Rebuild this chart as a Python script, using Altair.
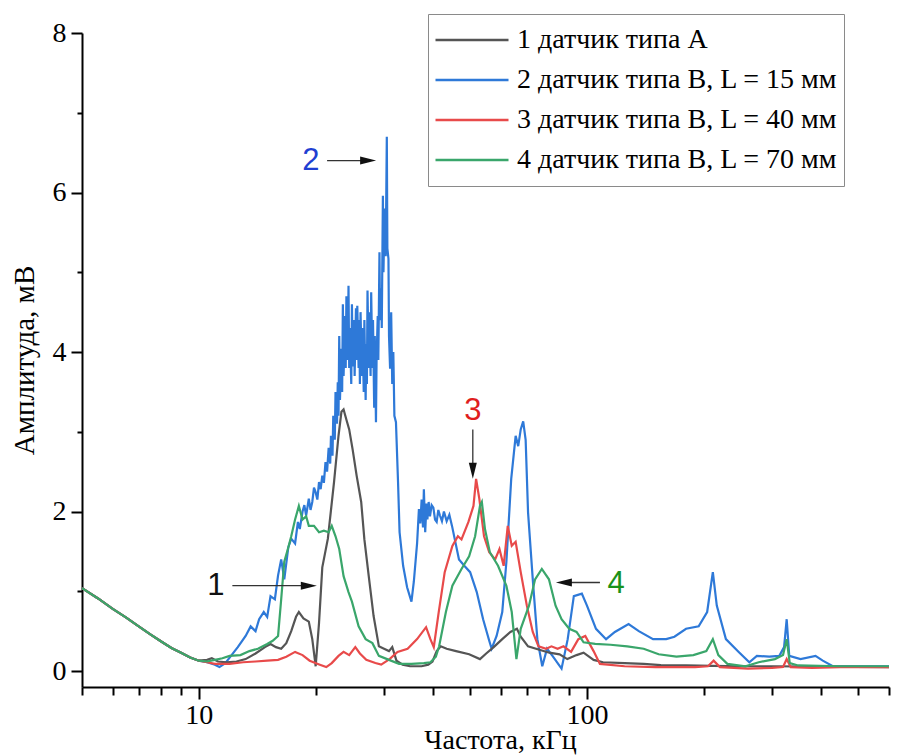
import altair as alt
import pandas as pd

# ---------------- data ----------------
series_names = [
    "1 датчик типа А",
    "2 датчик типа В, L = 15 мм",
    "3 датчик типа В, L = 40 мм",
    "4 датчик типа В, L = 70 мм",
]
series_colors = ["#555555", "#2e79d8", "#e84a4a", "#3aa66b"]

# common low-frequency part (all four curves coincide)
shared_freq = [5.0, 5.5, 6.0, 6.5, 7.0, 7.5, 8.0, 8.5, 9.0, 9.5, 10.0]
shared_amp = [1.04, 0.91, 0.78, 0.67, 0.56, 0.46, 0.37, 0.29, 0.23, 0.17, 0.13]

# 1 - sensor type A
a_freq = [10.5, 10.8, 11.2, 11.8, 12.5, 13.2, 14.0, 14.8, 15.3, 15.8, 16.3, 16.8, 17.3, 17.8,
          18.1, 18.6, 19.2, 19.6, 20.0, 20.4, 20.8, 21.5, 22.3, 22.9, 23.3, 23.6, 24.0, 24.4,
          24.9, 25.5, 26.2, 26.7, 27.4, 28.2, 29.1, 30.0, 30.9, 31.5, 32.3, 33.5, 35.0, 37.5,
          39.0, 40.0, 41.0, 42.0, 43.5, 46.0, 49.7, 53.0, 55.0, 57.5, 60.5, 63.5, 66.0, 67.5,
          70.5, 75.0, 80.0, 85.0, 89.0, 94.0, 98.0, 104.0, 110.0, 125.0, 140.0, 155.0, 180.0,
          210.0, 250.0, 300.0, 400.0, 600.0]
a_amp = [0.14, 0.16, 0.12, 0.11, 0.12, 0.15, 0.22, 0.30, 0.34, 0.30, 0.28, 0.35, 0.50, 0.68,
         0.74, 0.66, 0.62, 0.40, 0.06, 0.60, 1.30, 1.66, 2.37, 2.95, 3.25, 3.28, 3.15, 3.03,
         2.78, 2.45, 2.12, 1.65, 1.19, 0.69, 0.31, 0.28, 0.25, 0.30, 0.13, 0.08, 0.06, 0.06,
         0.08, 0.12, 0.25, 0.31, 0.28, 0.25, 0.21, 0.15, 0.22, 0.30, 0.40, 0.49, 0.53, 0.43,
         0.31, 0.27, 0.23, 0.21, 0.15, 0.20, 0.23, 0.14, 0.11, 0.10, 0.09, 0.075, 0.07,
         0.065, 0.06, 0.06, 0.055, 0.05]

# 2 - sensor type B, L = 15 mm
b_freq = [10.5, 11.0, 11.3, 11.7, 12.1, 12.6, 13.2, 13.6, 14.0, 14.3, 14.7, 15.0, 15.3, 15.7,
          16.0, 16.3, 16.6, 17.0, 17.3, 17.7, 18.0, 18.2, 18.5, 18.7, 18.9, 19.2, 19.4, 19.6,
          19.8, 20.0, 20.2, 20.4, 20.6, 20.8, 21.0, 21.2, 21.4, 21.6, 21.8, 21.9, 22.1, 22.2,
          22.4, 22.5, 22.7, 22.8, 22.9, 23.0, 23.1, 23.3, 23.4, 23.5, 23.6, 23.8, 23.9, 24.0,
          24.2, 24.3, 24.4, 24.5, 24.7, 24.8, 24.9, 25.1, 25.2, 25.4, 25.5, 25.6, 25.8, 25.9,
          26.0, 26.1, 26.3, 26.4, 26.6, 26.7, 26.9, 27.0, 27.1, 27.2, 27.4, 27.5, 27.7, 27.8,
          28.0, 28.1, 28.3, 28.4, 28.6, 28.7, 28.9, 29.0, 29.2, 29.3, 29.5, 29.6, 29.8, 29.9,
          30.1, 30.3, 30.5, 30.6, 30.8, 30.9, 31.1, 31.3, 31.5, 31.7, 31.9, 32.2, 32.6, 32.9,
          33.6, 34.4, 35.3, 35.8, 36.5, 36.9, 37.2, 37.5, 37.8, 38.0, 38.3, 38.6, 38.8, 39.1,
          39.4, 39.8, 40.2, 40.6, 41.0, 41.4, 41.8, 42.3, 42.8, 43.5, 44.2, 44.9, 46.8, 48.3,
          50.0, 52.0, 54.0, 56.0, 56.8, 58.5, 60.5, 62.0, 63.8, 65.5, 66.5, 67.5, 68.5, 69.5,
          70.5, 72.5, 74.5, 76.7, 78.9, 81.5, 86.0, 89.2, 92.5, 97.0, 100.0, 105.5, 112.0,
          118.0, 128.0, 136.0, 148.0, 160.0, 168.0, 180.0, 194.0, 204.0, 211.0, 216.0, 228.0,
          246.0, 262.0, 274.0, 295.0, 313.0, 322.0, 327.0, 332.0, 355.0, 388.0, 405.0, 430.0,
          500.0, 600.0]
b_amp = [0.11, 0.08, 0.05, 0.10, 0.19, 0.30, 0.44, 0.56, 0.50, 0.65, 0.74, 0.68, 0.94, 0.90,
         1.20, 1.40, 1.15, 1.55, 1.66, 1.60, 1.87, 1.78, 2.00, 2.08, 1.95, 2.16, 2.02, 2.12,
         2.30, 2.24, 2.15, 2.37, 2.28, 2.45, 2.36, 2.62, 2.50, 2.80, 2.60, 2.95, 2.70, 3.20,
         2.90, 3.50, 3.10, 3.62, 3.20, 4.20, 3.40, 4.04, 3.50, 4.60, 3.70, 4.45, 3.80, 4.70,
         3.90, 4.83, 3.80, 4.30, 3.60, 4.60, 3.82, 4.40, 3.70, 4.55, 3.90, 4.58, 3.80, 4.40,
         3.60, 4.50, 3.70, 4.30, 3.50, 4.40, 3.40, 4.10, 3.60, 4.77, 3.80, 4.50, 3.70, 4.75,
         3.80, 4.40, 3.30, 4.20, 3.12, 3.90, 4.45, 3.90, 5.25, 4.40, 4.80, 4.30, 5.96, 5.00,
         5.80, 5.20, 6.70, 5.30, 5.17, 4.20, 3.79, 4.50, 3.60, 4.00, 3.20, 3.12, 2.37, 1.74,
         1.32, 1.05, 0.87, 1.12, 1.60, 2.03, 1.85, 2.15, 1.80, 2.28, 1.74, 2.10, 1.90, 2.12,
         1.94, 2.08, 2.05, 1.90, 1.87, 2.02, 1.95, 1.88, 2.00, 1.88, 1.96, 1.82, 1.40, 1.32,
         1.24, 0.99, 0.65, 0.38, 0.28, 0.44, 0.74, 1.37, 2.41, 2.95, 2.82, 3.03, 3.13, 2.90,
         1.99, 1.15, 0.40, 0.06, 0.28, 0.19, 0.03, 0.40, 0.94, 0.97, 0.82, 0.53, 0.40,
         0.49, 0.59, 0.50, 0.40, 0.40, 0.43, 0.53, 0.56, 0.74, 1.24, 0.82, 0.40,
         0.24, 0.11, 0.19, 0.18, 0.19, 0.30, 0.65, 0.19, 0.15, 0.19, 0.13, 0.06,
         0.06, 0.06]

# 3 - sensor type B, L = 40 mm
c_freq = [10.5, 11.0, 12.0, 13.0, 14.0, 15.0, 16.0, 16.8, 17.7, 18.5, 19.3, 20.5, 21.3, 22.0,
          22.9, 23.6, 24.4, 25.3, 26.0, 27.0, 28.5, 29.5, 31.0, 32.5, 34.5, 36.5, 38.5, 39.5,
          40.3, 41.5, 43.0, 45.0, 46.5, 47.5, 49.5, 51.0, 51.8, 52.8, 54.3, 56.0, 58.0, 59.5,
          61.0, 62.5, 64.0, 65.5, 67.5, 70.0, 72.5, 75.0, 78.5, 81.0, 84.0, 87.0, 91.0, 95.0,
          99.0, 104.0, 108.0, 125.0, 150.0, 190.0, 205.0, 212.0, 220.0, 260.0, 300.0, 320.0,
          327.0, 335.0, 380.0, 450.0, 600.0]
c_amp = [0.11, 0.09, 0.09, 0.11, 0.12, 0.13, 0.14, 0.18, 0.24, 0.20, 0.13, 0.08, 0.05, 0.10,
         0.19, 0.24, 0.20, 0.30, 0.22, 0.14, 0.10, 0.08, 0.15, 0.24, 0.28, 0.40, 0.55, 0.40,
         0.30, 0.74, 1.24, 1.57, 1.69, 1.65, 1.87, 2.07, 2.41, 2.16, 1.69, 1.49, 1.40, 1.53,
         1.32, 1.82, 1.57, 1.62, 1.24, 0.82, 0.49, 0.31, 0.28, 0.31, 0.28, 0.31, 0.24, 0.40,
         0.44, 0.25, 0.09, 0.06, 0.05, 0.05, 0.06, 0.13, 0.05, 0.03, 0.04, 0.05,
         0.15, 0.05, 0.04, 0.05, 0.05]

# 4 - sensor type B, L = 70 mm
d_freq = [10.5, 11.0, 11.5, 12.0, 12.8, 13.5, 14.2, 15.0, 15.5, 16.0, 16.3, 16.6, 17.0, 17.3,
          17.7, 18.1, 18.5, 18.9, 19.2, 19.8, 20.4, 21.0, 21.6, 22.0, 22.5, 23.0, 23.6, 24.3,
          24.8, 25.8, 26.9, 28.0, 29.1, 30.9, 32.8, 35.3, 38.0, 39.5, 40.8, 41.6, 43.3, 45.0,
          47.5, 49.7, 51.5, 53.0, 53.6, 54.6, 56.2, 59.0, 62.0, 64.0, 65.8, 67.5, 70.9, 73.5,
          76.5, 79.8, 83.0, 86.0, 90.0, 94.0, 98.0, 105.0, 115.0, 127.0, 140.0, 153.0, 170.0,
          188.0, 203.0, 211.0, 218.0, 230.0, 256.0, 277.0, 305.0, 320.0, 327.0, 333.0, 350.0,
          450.0, 600.0]
d_amp = [0.12, 0.14, 0.16, 0.19, 0.20, 0.25, 0.28, 0.34, 0.38, 0.44, 0.90, 1.37, 1.55, 1.69,
         1.90, 2.07, 1.90, 1.94, 1.82, 1.82, 1.74, 1.76, 1.74, 1.82, 1.69, 1.53, 1.19, 0.99,
         0.87, 0.56, 0.40, 0.35, 0.19, 0.14, 0.09, 0.09, 0.10, 0.11, 0.18, 0.31, 0.74, 1.07,
         1.28, 1.44, 1.69, 2.07, 2.12, 1.78, 1.49, 1.32, 1.07, 0.74, 0.15, 0.53, 0.82, 1.15,
         1.28, 1.15, 0.82, 0.65, 0.53, 0.49, 0.36, 0.34, 0.33, 0.31, 0.28, 0.21, 0.18,
         0.20, 0.25, 0.40, 0.20, 0.09, 0.06, 0.11, 0.15, 0.20, 0.40, 0.10, 0.07,
         0.06, 0.06]

# annotations (numbers with arrows)
ann_labels = ["1", "2", "3", "4"]
ann_freq = [11.06, 19.45, 50.8, 118.8]
ann_amp = [1.07, 6.40, 3.26, 1.09]
ann_colors = ["#111111", "#1f3fd2", "#e01e1e", "#1a921a"]

arrow_freq = [12.2, 21.4, 50.8, 108.0]
arrow_amp = [1.07, 6.40, 3.03, 1.11]
arrow_freq2 = [19.2, 27.3, 50.8, 87.2]
arrow_amp2 = [1.07, 6.40, 2.51, 1.11]
arrow_dir = ["right", "right", "down", "left"]

x_ticks = [5, 6, 7, 8, 9, 10, 20, 30, 40, 50, 60, 70, 80, 90, 100, 200, 300, 400, 500, 600]
y_ticks = [0, 1, 2, 3, 4, 5, 6, 7, 8]

# ---------------- chart ----------------
def frame(name, f, a):
    return pd.DataFrame({"freq": shared_freq + f, "amp": shared_amp + a, "series": name})

dfs = {
    series_names[0]: frame(series_names[0], a_freq, a_amp),
    series_names[1]: frame(series_names[1], b_freq, b_amp),
    series_names[2]: frame(series_names[2], c_freq, c_amp),
    series_names[3]: frame(series_names[3], d_freq, d_amp),
}

serif = "Liberation Serif"

x_axis = alt.Axis(
    values=x_ticks,
    labelExpr="(datum.value == 10 || datum.value == 100) ? format(datum.value, 'd') : ''",
    grid=False, domainColor="black", domainWidth=2, tickColor="black", tickWidth=2,
    tickSize={"condition": {"test": "datum.value == 10 || datum.value == 100", "value": 12}, "value": 8},
    labelFont=serif, labelFontSize=28, labelColor="black", labelPadding=2,
    labelFlush=False, labelOverlap=False,
    titleFont=serif, titleFontSize=28, titleFontWeight="normal", titleColor="black",
    titleX=418, titleY=61, titleBaseline="alphabetic",
)
y_axis = alt.Axis(
    values=y_ticks,
    labelExpr="datum.value % 2 == 0 ? datum.label : ''",
    grid=False, domainColor="black", domainWidth=2, tickColor="black", tickWidth=2,
    tickSize={"condition": {"test": "datum.value % 2 == 0", "value": 11}, "value": 5},
    labelFont=serif, labelFontSize=28, labelColor="black", labelPadding=5,
    labelOverlap=False,
    titleFont=serif, titleFontSize=29, titleFontWeight="normal", titleColor="black",
    titlePadding=13,
)

x_enc = alt.X("freq:Q", scale=alt.Scale(type="log", domain=[5, 600], nice=False),
              axis=x_axis, title="Частота, кГц")
y_enc = alt.Y("amp:Q", scale=alt.Scale(domain=[-0.2, 8], nice=False, zero=False),
              axis=y_axis, title="Амплитуда, мВ")

color_enc = alt.Color(
    "series:N",
    scale=alt.Scale(domain=series_names, range=series_colors),
    legend=alt.Legend(
        orient="none", legendX=346, legendY=-19, title=None,
        symbolType="stroke", symbolSize=5329, symbolStrokeWidth=2.5,
        clipHeight=40, rowPadding=0, labelOffset=7,
        labelFont=serif, labelFontSize=28, labelColor="black", labelLimit=700,
        padding=6, strokeColor="#8a8a8a", fillColor="white",
    ),
)

draw_order = [series_names[1], series_names[0], series_names[2], series_names[3]]
line_layers = [
    alt.Chart(dfs[n]).mark_line(strokeWidth=2.2).encode(x=x_enc, y=y_enc, color=color_enc)
    for n in draw_order
]

ann_df = pd.DataFrame({"freq": ann_freq, "amp": ann_amp, "label": ann_labels, "tcolor": ann_colors})
text_layer = alt.Chart(ann_df).mark_text(
    font="Liberation Sans", fontSize=31, align="center", baseline="middle"
).encode(x=x_enc, y=y_enc, text="label:N", fill=alt.Fill("tcolor:N", scale=None))

arrow_df = pd.DataFrame({"freq": arrow_freq, "amp": arrow_amp,
                         "freq2": arrow_freq2, "amp2": arrow_amp2, "dir": arrow_dir})
rule_layer = alt.Chart(arrow_df).mark_rule(color="#333333", strokeWidth=1.3).encode(
    x=x_enc, y=y_enc, x2="freq2:Q", y2="amp2:Q")

head_df = pd.DataFrame({"freq": arrow_freq2, "amp": arrow_amp2, "dir": arrow_dir})
head_layer = alt.Chart(head_df).mark_point(filled=True, fill="#111111", opacity=1, size=256,
                                           strokeWidth=0).encode(
    x=x_enc, y=y_enc,
    shape=alt.Shape("dir:N", scale=alt.Scale(
        domain=["right", "left", "down"],
        range=["M-1,-0.5L1,0L-1,0.5Z", "M1,-0.5L-1,0L1,0.5Z", "M-0.5,-1L0,1L0.5,-1Z"]),
        legend=None),
)

chart = alt.layer(*line_layers, rule_layer, head_layer, text_layer).properties(
    width=807, height=654,
    padding={"left": 74, "top": 25, "right": 10, "bottom": 69},
    autosize=alt.AutoSizeParams(type="none"),
).configure(font=serif).configure_view(stroke=None).configure_axis(
    labelFont=serif, titleFont=serif
).configure_legend(labelFont=serif)

chart.save("out.html", embed_options={"renderer": "svg", "actions": False})
